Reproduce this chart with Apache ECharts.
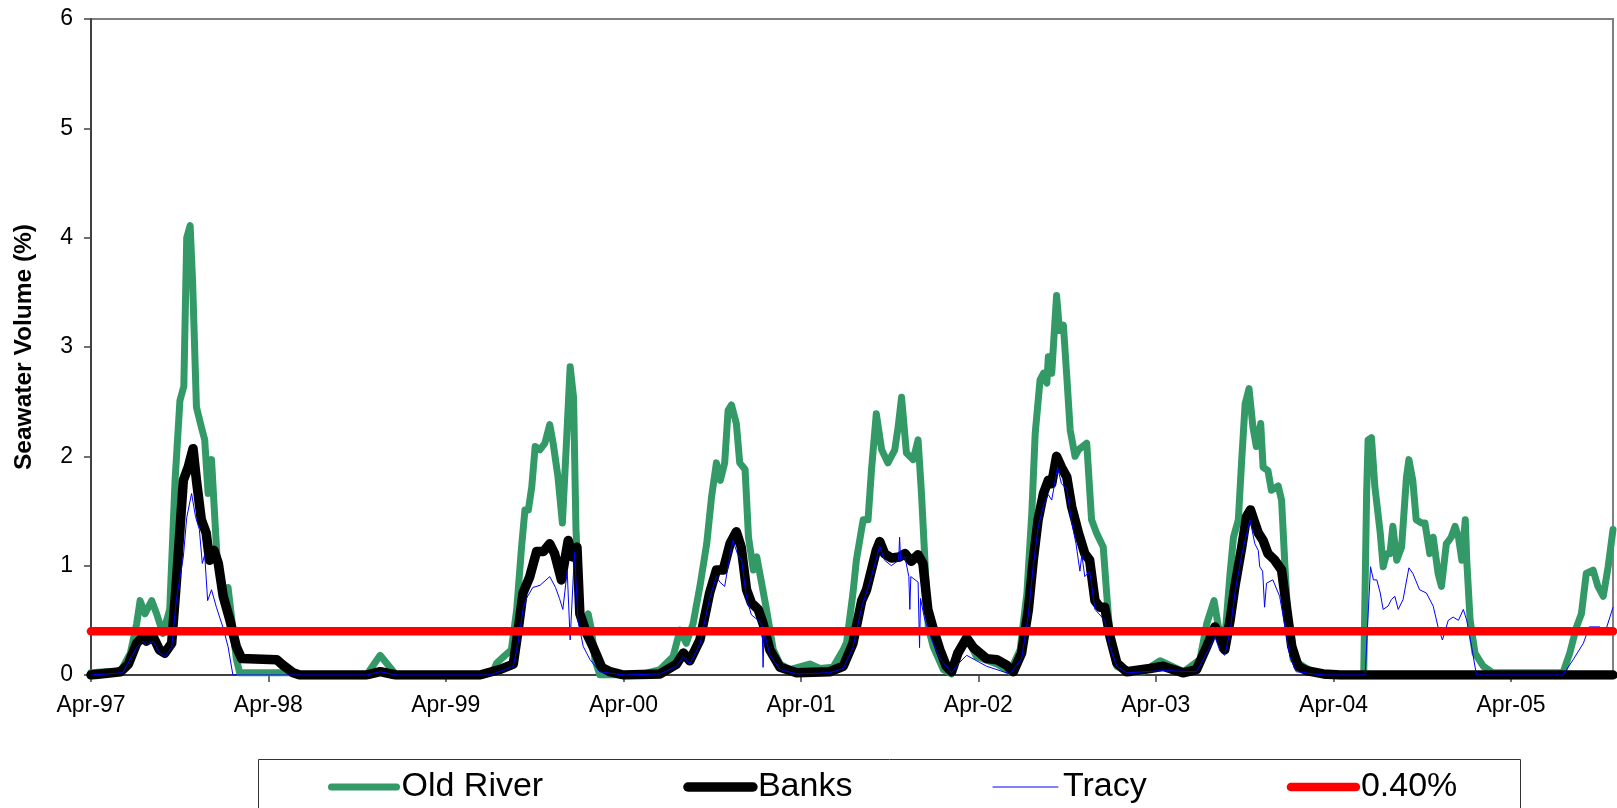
<!DOCTYPE html>
<html><head><meta charset="utf-8">
<script src="https://cdn.jsdelivr.net/npm/echarts@6/dist/echarts.min.js"></script>
<style>html,body{margin:0;padding:0;background:#fff}#c{width:1617px;height:808px}</style>
</head><body><div id="c"></div>
<script>
const tickLabels = ['Apr-97','Apr-98','Apr-99','Apr-00','Apr-01','Apr-02','Apr-03','Apr-04','Apr-05'];
const tickDates = ['1997-04-01','1998-04-01','1999-04-01','2000-04-01','2001-04-01','2002-04-01','2003-04-01','2004-04-01','2005-04-01'];
const xStart = '1997-04-01', xEnd = '2005-10-28';
const seriesNames = ['Old River','Banks','Tracy','0.40%'];

const oldRiver = [['1997-04-01',0.02],['1997-05-01',0.03],['1997-05-26',0.03],['1997-06-04',0.06],['1997-06-21',0.2],['1997-07-04',0.47],['1997-07-11',0.68],['1997-07-21',0.56],['1997-08-04',0.68],['1997-08-14',0.56],['1997-08-27',0.38],['1997-09-10',0.6],['1997-09-21',1.78],['1997-10-01',2.51],['1997-10-09',2.64],['1997-10-15',4.0],['1997-10-22',4.11],['1997-10-27',3.61],['1997-11-04',2.45],['1997-11-14',2.27],['1997-11-21',2.15],['1997-11-28',1.66],['1997-12-05',1.97],['1997-12-16',1.1],['1997-12-29',0.78],['1998-01-08',0.8],['1998-01-16',0.5],['1998-01-25',0.15],['1998-02-01',0.02],['1998-05-15',0.02],['1998-06-05',0],['1998-10-20',0],['1998-11-17',0.18],['1998-12-20',0],['1999-06-10',0],['1999-07-07',0.03],['1999-07-15',0.11],['1999-08-01',0.18],['1999-08-14',0.23],['1999-08-25',0.6],['1999-09-04',1.17],['1999-09-11',1.51],['1999-09-18',1.51],['1999-09-25',1.72],['1999-10-02',2.09],['1999-10-12',2.06],['1999-10-22',2.12],['1999-11-01',2.29],['1999-11-08',2.12],['1999-11-18',1.81],['1999-11-27',1.39],['1999-12-05',2.09],['1999-12-13',2.82],['1999-12-20',2.54],['1999-12-25',1.33],['2000-01-02',0.53],['2000-01-09',0.41],['2000-01-19',0.56],['2000-01-26',0.41],['2000-02-02',0.14],['2000-02-12',0],['2000-05-05',0],['2000-06-15',0.05],['2000-07-12',0.17],['2000-07-26',0.41],['2000-08-08',0.29],['2000-08-22',0.47],['2000-09-05',0.81],['2000-09-19',1.2],['2000-09-29',1.63],['2000-10-09',1.94],['2000-10-17',1.78],['2000-10-26',1.94],['2000-11-02',2.42],['2000-11-09',2.47],['2000-11-19',2.3],['2000-11-26',1.94],['2000-12-07',1.88],['2000-12-14',1.26],['2000-12-24',0.96],['2000-12-31',1.08],['2001-01-10',0.84],['2001-01-20',0.6],['2001-02-03',0.23],['2001-02-17',0.1],['2001-03-09',0.05],['2001-04-19',0.1],['2001-05-10',0.06],['2001-06-06',0.07],['2001-06-27',0.23],['2001-07-04',0.3],['2001-07-17',0.75],['2001-07-24',1.05],['2001-08-07',1.42],['2001-08-17',1.42],['2001-08-24',1.87],['2001-09-03',2.39],['2001-09-14',2.06],['2001-09-27',1.94],['2001-10-11',2.06],['2001-10-18',2.27],['2001-10-25',2.54],['2001-11-04',2.03],['2001-11-18',1.97],['2001-11-28',2.15],['2001-12-05',1.66],['2001-12-12',1.05],['2001-12-19',0.44],['2001-12-29',0.26],['2002-01-19',0.05],['2002-02-05',0.01],['2002-02-15',0.2],['2002-03-08',0.35],['2002-03-28',0.17],['2002-05-09',0.1],['2002-06-05',0.03],['2002-06-26',0.23],['2002-07-10',0.75],['2002-07-20',1.48],['2002-07-27',2.21],['2002-08-06',2.7],['2002-08-13',2.76],['2002-08-20',2.67],['2002-08-23',2.91],['2002-08-30',2.76],['2002-09-04',3.12],['2002-09-09',3.47],['2002-09-15',3.15],['2002-09-23',3.2],['2002-09-30',2.73],['2002-10-07',2.24],['2002-10-17',2.0],['2002-10-24',2.06],['2002-11-10',2.12],['2002-11-20',1.42],['2002-11-30',1.3],['2002-12-14',1.17],['2002-12-21',0.75],['2002-12-28',0.35],['2003-01-11',0.08],['2003-02-07',0.02],['2003-03-06',0.03],['2003-04-10',0.13],['2003-05-28',0.03],['2003-07-01',0.14],['2003-07-15',0.47],['2003-07-30',0.68],['2003-08-08',0.44],['2003-08-21',0.32],['2003-09-01',0.93],['2003-09-08',1.26],['2003-09-18',1.42],['2003-09-25',1.97],['2003-10-02',2.48],['2003-10-10',2.62],['2003-10-18',2.27],['2003-10-25',2.09],['2003-11-03',2.3],['2003-11-08',1.9],['2003-11-18',1.87],['2003-11-25',1.69],['2003-12-09',1.73],['2003-12-16',1.6],['2003-12-23',0.99],['2003-12-30',0.44],['2004-01-09',0.14],['2004-01-29',0.08],['2004-02-18',0.03],['2004-03-16',0],['2004-06-02',0],['2004-06-08',1.66],['2004-06-11',2.15],['2004-06-18',2.17],['2004-06-25',1.72],['2004-07-06',1.3],['2004-07-12',0.99],['2004-07-19',1.11],['2004-07-26',1.11],['2004-08-01',1.36],['2004-08-09',1.05],['2004-08-19',1.17],['2004-08-29',1.81],['2004-09-03',1.97],['2004-09-11',1.78],['2004-09-18',1.42],['2004-09-29',1.39],['2004-10-06',1.39],['2004-10-16',1.11],['2004-10-23',1.26],['2004-11-02',0.93],['2004-11-09',0.81],['2004-11-19',1.2],['2004-11-29',1.26],['2004-12-07',1.36],['2004-12-14',1.26],['2004-12-21',1.05],['2004-12-28',1.42],['2004-12-31',1.05],['2005-01-07',0.5],['2005-01-17',0.2],['2005-02-03',0.08],['2005-02-23',0.02],['2005-07-17',0.02],['2005-07-31',0.2],['2005-08-14',0.44],['2005-08-24',0.56],['2005-09-03',0.93],['2005-09-17',0.96],['2005-09-27',0.81],['2005-10-08',0.72],['2005-10-18',0.99],['2005-10-28',1.33]];

const banks = [['1997-04-01',0],['1997-06-01',0.03],['1997-06-17',0.1],['1997-07-04',0.29],['1997-07-17',0.35],['1997-07-24',0.31],['1997-08-07',0.35],['1997-08-20',0.23],['1997-08-31',0.2],['1997-09-14',0.29],['1997-09-24',0.87],['1997-10-08',1.78],['1997-10-18',1.9],['1997-10-28',2.07],['1997-11-04',1.78],['1997-11-14',1.42],['1997-11-24',1.3],['1997-12-01',1.05],['1997-12-10',1.14],['1997-12-19',1.02],['1997-12-29',0.72],['1998-01-12',0.5],['1998-01-25',0.26],['1998-02-05',0.15],['1998-04-18',0.14],['1998-05-01',0.09],['1998-05-22',0.02],['1998-06-05',0],['1998-10-20',0],['1998-11-17',0.03],['1998-12-20',0],['1999-06-10',0],['1999-07-21',0.05],['1999-08-18',0.1],['1999-08-28',0.41],['1999-09-07',0.75],['1999-09-21',0.9],['1999-10-05',1.13],['1999-10-19',1.13],['1999-11-01',1.2],['1999-11-11',1.11],['1999-11-25',0.87],['1999-12-09',1.23],['1999-12-18',1.08],['1999-12-27',1.17],['2000-01-02',0.56],['2000-01-16',0.38],['2000-01-29',0.26],['2000-02-16',0.07],['2000-03-04',0.03],['2000-04-01',0],['2000-06-15',0.01],['2000-07-19',0.1],['2000-08-02',0.2],['2000-08-15',0.13],['2000-09-05',0.32],['2000-09-25',0.75],['2000-10-09',0.96],['2000-10-23',0.96],['2000-11-06',1.2],['2000-11-19',1.31],['2000-11-29',1.17],['2000-12-10',0.78],['2000-12-20',0.66],['2001-01-03',0.6],['2001-01-13',0.47],['2001-01-27',0.23],['2001-02-17',0.07],['2001-03-23',0.02],['2001-05-30',0.03],['2001-06-27',0.08],['2001-07-17',0.29],['2001-08-04',0.68],['2001-08-14',0.78],['2001-08-24',0.96],['2001-09-03',1.14],['2001-09-10',1.22],['2001-09-20',1.11],['2001-10-04',1.07],['2001-10-21',1.08],['2001-11-01',1.11],['2001-11-14',1.04],['2001-11-28',1.1],['2001-12-08',1.02],['2001-12-18',0.6],['2001-12-28',0.44],['2002-01-12',0.23],['2002-01-25',0.08],['2002-02-05',0.03],['2002-02-18',0.2],['2002-03-08',0.34],['2002-03-22',0.25],['2002-04-18',0.15],['2002-05-09',0.14],['2002-05-29',0.09],['2002-06-12',0.03],['2002-06-29',0.2],['2002-07-13',0.6],['2002-07-23',1.05],['2002-08-02',1.42],['2002-08-13',1.66],['2002-08-23',1.78],['2002-08-30',1.75],['2002-09-09',2.0],['2002-09-19',1.9],['2002-09-30',1.81],['2002-10-10',1.54],['2002-10-24',1.3],['2002-11-06',1.11],['2002-11-16',1.05],['2002-11-27',0.68],['2002-12-07',0.62],['2002-12-17',0.62],['2002-12-28',0.35],['2003-01-11',0.11],['2003-01-31',0.03],['2003-03-20',0.06],['2003-04-16',0.08],['2003-05-27',0.02],['2003-06-24',0.05],['2003-07-15',0.26],['2003-08-01',0.44],['2003-08-11',0.35],['2003-08-21',0.23],['2003-09-01',0.5],['2003-09-11',0.81],['2003-09-25',1.17],['2003-10-05',1.45],['2003-10-13',1.51],['2003-10-22',1.39],['2003-10-29',1.3],['2003-11-08',1.23],['2003-11-18',1.11],['2003-12-02',1.05],['2003-12-16',0.96],['2003-12-26',0.62],['2004-01-06',0.26],['2004-01-19',0.08],['2004-02-05',0.04],['2004-03-11',0.01],['2004-04-15',0],['2005-10-28',0]];

const tracy = [['1997-04-01',0],['1997-06-05',0.02],['1997-07-04',0.25],['1997-07-17',0.31],['1997-07-24',0.27],['1997-08-07',0.31],['1997-08-20',0.2],['1997-08-31',0.17],['1997-09-14',0.25],['1997-09-24',0.7],['1997-10-08',1.08],['1997-10-15',1.44],['1997-10-25',1.66],['1997-11-02',1.45],['1997-11-10',1.33],['1997-11-16',1.02],['1997-11-21',1.1],['1997-11-27',0.68],['1997-12-05',0.78],['1997-12-15',0.62],['1997-12-29',0.43],['1998-01-08',0.26],['1998-01-18',0],['1998-10-20',0],['1998-11-17',0.03],['1998-12-20',0],['1999-07-01',0],['1999-08-01',0.05],['1999-08-18',0.08],['1999-08-28',0.3],['1999-09-07',0.6],['1999-09-14',0.7],['1999-09-27',0.8],['1999-10-12',0.82],['1999-11-01',0.9],['1999-11-13',0.8],['1999-11-21',0.7],['1999-11-28',0.6],['1999-12-07',0.95],['1999-12-13',0.32],['1999-12-22',1.13],['1999-12-29',0.5],['2000-01-09',0.26],['2000-01-23',0.14],['2000-02-12',0.03],['2000-04-01',0],['2000-06-15',0.01],['2000-07-19',0.08],['2000-08-02',0.17],['2000-08-15',0.1],['2000-09-05',0.28],['2000-09-25',0.7],['2000-10-09',0.9],['2000-10-16',0.85],['2000-10-26',0.81],['2000-11-06',1.1],['2000-11-12',1.23],['2000-11-22',1.1],['2000-11-30',1.05],['2000-12-10',0.7],['2000-12-20',0.55],['2001-01-03',0.5],['2001-01-11',0.45],['2001-01-13',0.07],['2001-01-15',0.4],['2001-01-27',0.18],['2001-02-17',0.05],['2001-03-23',0.01],['2001-05-30',0.02],['2001-06-27',0.06],['2001-07-17',0.25],['2001-08-04',0.62],['2001-08-24',0.9],['2001-09-10',1.18],['2001-09-20',1.05],['2001-10-04',1.0],['2001-10-19',1.05],['2001-10-21',1.26],['2001-10-23',1.05],['2001-11-01',1.08],['2001-11-09',0.9],['2001-11-11',0.6],['2001-11-13',0.9],['2001-11-28',0.85],['2001-12-01',0.25],['2001-12-03',0.7],['2001-12-12',0.5],['2001-12-28',0.3],['2002-01-12',0.15],['2002-02-05',0.02],['2002-02-18',0.1],['2002-03-08',0.18],['2002-04-18',0.08],['2002-06-05',0.01],['2002-06-29',0.15],['2002-07-13',0.55],['2002-07-23',1.0],['2002-08-02',1.35],['2002-08-13',1.55],['2002-08-23',1.65],['2002-08-30',1.6],['2002-09-11',1.9],['2002-09-19',1.75],['2002-09-30',1.7],['2002-10-10',1.4],['2002-10-19',1.2],['2002-10-27',0.95],['2002-10-31',1.1],['2002-11-06',0.9],['2002-11-16',0.95],['2002-11-27',0.6],['2002-12-07',0.55],['2002-12-17',0.5],['2002-12-28',0.25],['2003-01-11',0.08],['2003-01-31',0.02],['2003-04-16',0.04],['2003-06-24',0.03],['2003-07-15',0.2],['2003-08-01',0.35],['2003-08-11',0.22],['2003-08-21',0.18],['2003-09-01',0.4],['2003-09-11',0.75],['2003-09-25',1.1],['2003-10-12',1.42],['2003-10-22',1.2],['2003-10-29',1.14],['2003-11-01',0.99],['2003-11-07',0.95],['2003-11-11',0.62],['2003-11-15',0.84],['2003-11-28',0.87],['2003-12-12',0.72],['2003-12-23',0.44],['2004-01-02',0.17],['2004-01-15',0.03],['2004-03-11',0],['2004-06-05',0],['2004-06-16',0.99],['2004-06-22',0.87],['2004-06-29',0.87],['2004-07-06',0.75],['2004-07-12',0.6],['2004-07-22',0.63],['2004-07-29',0.69],['2004-08-05',0.72],['2004-08-12',0.6],['2004-08-22',0.69],['2004-09-03',0.98],['2004-09-11',0.93],['2004-09-25',0.78],['2004-10-09',0.75],['2004-10-23',0.63],['2004-11-02',0.44],['2004-11-11',0.32],['2004-11-23',0.5],['2004-12-03',0.53],['2004-12-14',0.5],['2004-12-24',0.6],['2004-12-31',0.5],['2005-01-10',0.26],['2005-01-20',0],['2005-07-17',0],['2005-08-07',0.14],['2005-08-28',0.29],['2005-09-09',0.44],['2005-10-01',0.44],['2005-10-11',0.38],['2005-10-28',0.62]];

const threshold = [['1997-04-01',0.4],['2005-10-28',0.4]];

const DAY = 86400000;
const t0 = Date.UTC(1997, 3, 1);
function dayNum(s){ const p = s.split('-'); return Math.round((Date.UTC(+p[0], +p[1]-1, +p[2]) - t0) / DAY); }
const tickDays = tickDates.map(dayNum);
function toPts(arr){ return arr.map(d => [dayNum(d[0]), d[1]]); }
function labelFor(v){
  let best = -1, bd = Infinity;
  tickDays.forEach((t,i)=>{ const d = Math.abs(t - v); if (d < bd){ bd = d; best = i; } });
  return bd < 3 ? tickLabels[best] : '';
}

const font = '"Liberation Sans", Arial, sans-serif';
const chart = echarts.init(document.getElementById('c'), null, {renderer:'canvas'});
const lineCommon = { type:'line', symbol:'none', showSymbol:false, silent:true, animation:false, clip:true };

chart.setOption({
  animation:false,
  backgroundColor:'#ffffff',
  textStyle:{ fontFamily: font },
  grid:{ left:91, top:19, width:1522, height:656, show:true, borderColor:'#808080', borderWidth:2, backgroundColor:'transparent', containLabel:false, outerBoundsMode:'none' },
  xAxis:{
    type:'value', min: dayNum(xStart), max: dayNum(xEnd), interval: 365.25,
    axisLine:{ show:true, onZero:false, lineStyle:{ color:'#404040', width:2 } },
    axisTick:{ show:true, length:7, lineStyle:{ color:'#404040', width:1.5 }, customValues: tickDays },
    axisLabel:{ customValues: tickDays, formatter: labelFor, fontFamily: font, fontSize:23, color:'#000', margin:19, hideOverlap:false },
    splitLine:{ show:false }
  },
  yAxis:{
    type:'value', min:0, max:6, interval:1,
    name:'Seawater Volume (%)', nameLocation:'middle', nameGap:54, nameRotate:90,
    nameTextStyle:{ fontFamily: font, fontSize:24.5, fontWeight:'bold', color:'#000' },
    axisLine:{ show:true, lineStyle:{ color:'#404040', width:2 } },
    axisTick:{ show:true, length:7, lineStyle:{ color:'#404040', width:1.5 } },
    axisLabel:{ fontFamily: font, fontSize:23, color:'#000', margin:18 },
    splitLine:{ show:false }
  },
  legend:{
    left:328, top:770, padding:0, itemWidth:65, itemHeight:10, itemGap:140,
    textStyle:{ fontFamily: font, fontSize:34, color:'#000', lineHeight:34 },
    lineStyle:{ width:'inherit', cap:'round' },
    itemStyle:{ opacity:0 },
    data: seriesNames.map(n => ({ name:n, itemStyle:{ opacity:0, color:'rgba(0,0,0,0)' } }))
  },
  graphic:[{ type:'rect', silent:true, z:-1, shape:{ x:258.5, y:759.5, width:1262, height:80 }, style:{ fill:'none', stroke:'#333', lineWidth:1 } }],
  series:[
    Object.assign({}, lineCommon, { name: seriesNames[0], data: toPts(oldRiver), z:2, lineStyle:{ color:'#339966', width:7, join:'round', cap:'round' }, itemStyle:{ color:'#339966' } }),
    Object.assign({}, lineCommon, { name: seriesNames[1], data: toPts(banks), z:3, lineStyle:{ color:'#000000', width:9.5, join:'round', cap:'round' }, itemStyle:{ color:'#000000' } }),
    Object.assign({}, lineCommon, { name: seriesNames[2], data: toPts(tracy), z:4, lineStyle:{ color:'#0000ff', width:1 }, itemStyle:{ color:'#0000ff' } }),
    Object.assign({}, lineCommon, { name: seriesNames[3], data: toPts(threshold), z:5, lineStyle:{ color:'#ff0000', width:8.5, cap:'round' }, itemStyle:{ color:'#ff0000' } })
  ]
});
</script>
</body></html>
